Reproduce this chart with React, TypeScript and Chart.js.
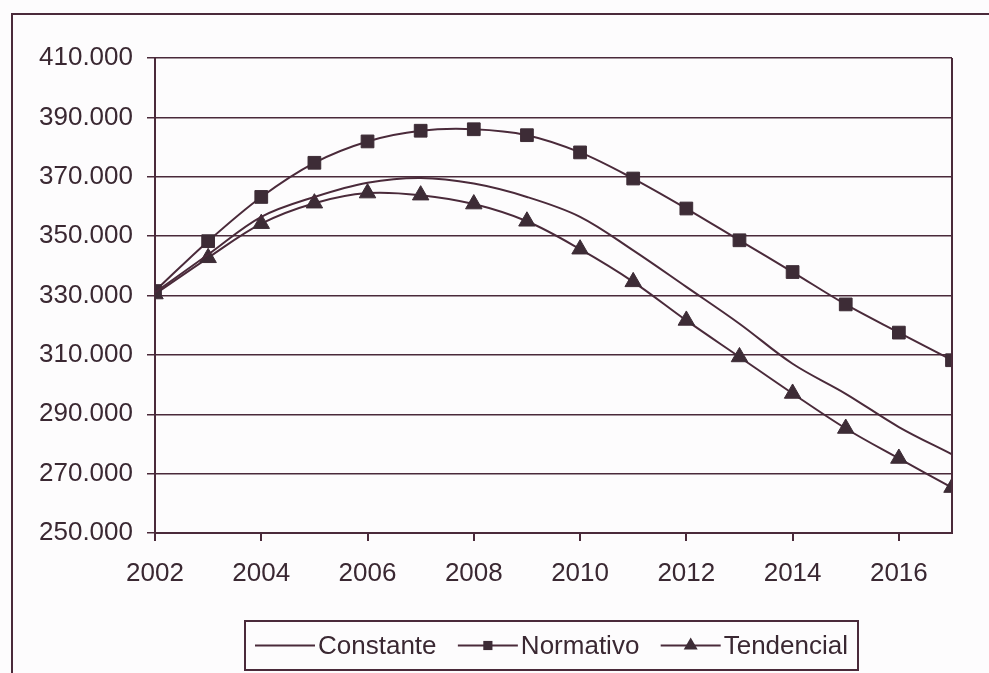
import React, { useEffect, useRef } from "react";
import { Chart, registerables } from "chart.js";

Chart.register(...registerables);

const years = [2002, 2003, 2004, 2005, 2006, 2007, 2008, 2009, 2010, 2011, 2012, 2013, 2014, 2015, 2016, 2017];
const constante = [331000, 343800, 356500, 363200, 368000, 369600, 367700, 363200, 356500, 345200, 332900, 320500, 307000, 296900, 285700, 276500];
const normativo = [331500, 348300, 363200, 374700, 381900, 385500, 386000, 384000, 378200, 369400, 359300, 348600, 337900, 327000, 317500, 308200];
const tendencial = [330500, 342700, 354200, 361100, 364500, 363800, 360800, 355000, 345600, 334600, 321600, 309300, 297000, 285200, 275100, 265300];
const xTickYears = [2002, 2004, 2006, 2008, 2010, 2012, 2014, 2016];
const seriesNames = ["Constante", "Normativo", "Tendencial"];

const INK = "#4a2a3a";
const MARK = "#3d2c36";
const TEXT = "#3a2832";
const FONT = "'Liberation Sans', Arial, sans-serif";

const fmt = (v: number) => String(Math.round(v)).replace(/\B(?=(\d{3})+(?!\d))/g, ".");

const framePlugin = {
  id: "frame",
  beforeDraw(chart: any) {
    const ctx = chart.ctx;
    ctx.save();
    ctx.fillStyle = "#fdfcfd";
    ctx.fillRect(0, 0, chart.width, chart.height);
    ctx.strokeStyle = INK;
    ctx.lineWidth = 2;
    ctx.beginPath();
    ctx.moveTo(12, chart.height);
    ctx.lineTo(12, 14);
    ctx.lineTo(chart.width, 14);
    ctx.stroke();
    ctx.restore();
  },
  afterDatasetsDraw(chart: any) {
    const { ctx, chartArea } = chart;
    ctx.save();
    ctx.strokeStyle = INK;
    ctx.lineWidth = 2;
    ctx.beginPath();
    ctx.moveTo(chartArea.right, chartArea.top);
    ctx.lineTo(chartArea.right, chartArea.bottom);
    ctx.stroke();
    ctx.restore();
  },
};

function drawMarker(ctx: CanvasRenderingContext2D, style: string, r: number, x: number, y: number) {
  ctx.beginPath();
  if (style === "rect") {
    const s = r * Math.SQRT1_2;
    ctx.rect(x - s, y - s, 2 * s, 2 * s);
  } else if (style === "triangle") {
    for (let k = 0; k < 3; k++) {
      const a = (k * 2 * Math.PI) / 3;
      const px = x + Math.sin(a) * r;
      const py = y - Math.cos(a) * r;
      if (k === 0) ctx.moveTo(px, py);
      else ctx.lineTo(px, py);
    }
    ctx.closePath();
  }
  ctx.fill();
}

const legendPlugin = {
  id: "boxLegend",
  afterDraw(chart: any) {
    const ctx = chart.ctx;
    const box = { x: 245, y: 621, w: 613, h: 49 };
    ctx.save();
    ctx.strokeStyle = INK;
    ctx.lineWidth = 2;
    ctx.strokeRect(box.x, box.y, box.w, box.h);
    ctx.font = `26px ${FONT}`;
    ctx.textBaseline = "middle";
    ctx.textAlign = "left";
    const sample = 60;
    const gapText = 3;
    const ds = chart.data.datasets;
    const widths = ds.map((d: any) => ctx.measureText(d.label).width);
    const content = ds.length * (sample + gapText) + widths.reduce((a: number, b: number) => a + b, 0);
    const pad = 10;
    const gap = (box.w - 2 * pad - content) / (ds.length - 1);
    let x = box.x + pad;
    const cy = box.y + box.h / 2;
    ds.forEach((d: any, i: number) => {
      ctx.strokeStyle = d.borderColor;
      ctx.lineWidth = 2;
      ctx.beginPath();
      ctx.moveTo(x, cy);
      ctx.lineTo(x + sample, cy);
      ctx.stroke();
      if (d.pointStyle && d.pointRadius > 0) {
        ctx.fillStyle = d.pointBackgroundColor;
        const r = d.pointStyle === "rect" ? d.pointRadius * 0.72 : d.pointRadius * 0.85;
        drawMarker(ctx, d.pointStyle, r, x + sample / 2, cy);
      }
      ctx.fillStyle = TEXT;
      ctx.fillText(d.label, x + sample + gapText, cy + 1);
      x += sample + gapText + widths[i] + gap;
    });
    ctx.restore();
  },
};

export default function App() {
  const ref = useRef<HTMLCanvasElement | null>(null);
  useEffect(() => {
    if (!ref.current) return;
    const toPts = (arr: number[]) => arr.map((v, i) => ({ x: years[i], y: v }));
    const chart = new Chart(ref.current, {
      type: "line",
      data: {
        datasets: [
          {
            label: seriesNames[0],
            data: toPts(constante),
            borderColor: INK,
            borderWidth: 2,
            pointRadius: 0,
            pointStyle: false as any,
            tension: 0.35,
          },
          {
            label: seriesNames[1],
            data: toPts(normativo),
            borderColor: INK,
            borderWidth: 2,
            pointStyle: "rect",
            pointRadius: 9,
            pointBackgroundColor: MARK,
            pointBorderColor: MARK,
            pointBorderWidth: 1,
            tension: 0.35,
          },
          {
            label: seriesNames[2],
            data: toPts(tendencial),
            borderColor: INK,
            borderWidth: 2,
            pointStyle: "triangle",
            pointRadius: 9.5,
            pointBackgroundColor: MARK,
            pointBorderColor: MARK,
            pointBorderWidth: 1,
            tension: 0.35,
          },
        ],
      },
      options: {
        animation: false,
        responsive: true,
        maintainAspectRatio: false,
        layout: { padding: { left: 0, right: 37, top: 58, bottom: 80 } },
        plugins: { legend: { display: false }, tooltip: { enabled: false } },
        scales: {
          x: {
            type: "linear",
            min: 2002,
            max: 2017,
            afterBuildTicks: (axis: any) => {
              axis.ticks = xTickYears.map((v) => ({ value: v }));
            },
            afterFit: (s: any) => {
              s.height = 60;
            },
            grid: { display: true, drawOnChartArea: false, drawTicks: true, tickLength: 8, color: INK, lineWidth: 2 },
            border: { display: true, color: INK, width: 2 },
            ticks: {
              autoSkip: false,
              maxRotation: 0,
              color: TEXT,
              padding: 17,
              font: { family: FONT, size: 26 },
              callback: (v: any) => String(v),
            },
          },
          y: {
            type: "linear",
            min: 250000,
            max: 410000,
            afterFit: (s: any) => {
              s.width = 155;
            },
            grid: { color: INK, lineWidth: 1.5, tickLength: 8, drawTicks: true },
            border: { display: true, color: INK, width: 2 },
            ticks: {
              stepSize: 20000,
              color: TEXT,
              padding: 14,
              font: { family: FONT, size: 26 },
              callback: (v: any) => fmt(Number(v)),
            },
          },
        },
      },
      plugins: [framePlugin, legendPlugin],
    });
    return () => chart.destroy();
  }, []);
  return (
    <div style={{ position: "fixed", left: 0, top: 0, width: 989, height: 673 }}>
      <canvas ref={ref} />
    </div>
  );
}
